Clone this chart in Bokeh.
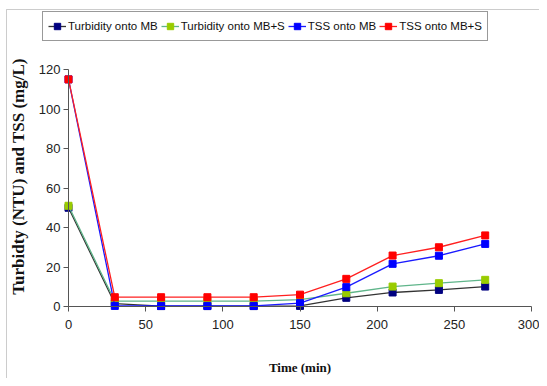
import math
from bokeh.plotting import figure
from bokeh.models import Legend, LegendItem, Range1d, FixedTicker, BoxAnnotation, Label
from bokeh.embed import file_html
from bokeh.resources import INLINE

time_min = [0, 30, 60, 90, 120, 150, 180, 210, 240, 270]
turb_mb = [50, 1.5, 0.2, 0.2, 0.2, 0.3, 4.4, 7.1, 8.4, 10.1]
turb_mbs = [51, 2.7, 2.7, 2.7, 2.7, 3.5, 6.7, 10.1, 11.8, 13.5]
tss_mb = [115, 0.3, 0.3, 0.3, 0.3, 1.7, 9.8, 21.6, 25.7, 31.7]
tss_mbs = [115, 4.7, 4.7, 4.7, 4.7, 6, 14, 25.8, 30, 36]

x_ticks = [0, 50, 100, 150, 200, 250, 300]
y_ticks = [0, 20, 40, 60, 80, 100, 120]
x_title = "Time (min)"
y_title = "Turbidty (NTU) and TSS (mg/L)"

# layout (canvas pixels)
W, H = 539, 378
X0_PX, X300_PX = 68, 531     # where x=0 and x=300 fall
Y0_PX, Y120_PX = 306, 69     # where y=0 and y=120 fall
pxu = (X300_PX - X0_PX) / 300.0
pyu = (Y0_PX - Y120_PX) / 120.0
x_rng = Range1d(-X0_PX / pxu, 300 + (W - X300_PX) / pxu)
y_rng = Range1d(-(H - Y0_PX) / pyu, 120 + Y120_PX / pyu)

p = figure(width=W, height=H, output_backend="svg", toolbar_location=None,
           x_range=x_rng, y_range=y_rng, min_border=0,
           min_border_left=0, min_border_right=0, min_border_top=0, min_border_bottom=0)
p.outline_line_color = None
p.xgrid.visible = False
p.ygrid.visible = False
p.background_fill_color = "white"
p.border_fill_color = "white"

p.add_layout(BoxAnnotation(left=6, top=9, right=2000, bottom=2000,
                           left_units="canvas", right_units="canvas",
                           top_units="canvas", bottom_units="canvas",
                           fill_color=None, line_color="#555555", line_width=1))

tick_font = "Liberation Sans"
for ax in (p.xaxis[0], p.yaxis[0]):
    ax.fixed_location = 0
    ax.axis_line_color = "#555555"
    ax.major_tick_line_color = "#555555"
    ax.minor_tick_line_color = None
    ax.major_tick_out = 5
    ax.major_tick_in = 0
    ax.major_label_text_font = tick_font
    ax.major_label_text_font_size = "13px"
    ax.major_label_text_color = "#222222"
    ax.axis_label_text_font = "Liberation Serif"
    ax.axis_label_text_font_style = "bold"
    ax.axis_label_text_color = "#111111"

p.xaxis.bounds = (0, 300)
p.yaxis.bounds = (0, 120)
p.xaxis.ticker = FixedTicker(ticks=x_ticks)
p.yaxis.ticker = FixedTicker(ticks=y_ticks)
p.xaxis.axis_label = x_title
p.xaxis.axis_label_text_font_size = "13px"
p.xaxis.major_label_standoff = 8
p.xaxis.axis_label_standoff = 28
p.yaxis.major_label_standoff = 3

# y title placed at its own spot (centred a little above the axis middle, as in the reference)
p.add_layout(Label(x=(18 - X0_PX) / pxu, y=(Y0_PX - 176) / pyu, text=y_title,
                   angle=math.pi / 2, text_align="center", text_baseline="middle",
                   text_font="Liberation Serif", text_font_style="bold",
                   text_font_size="17px", text_color="#111111"))

series = [
    ("Turbidity onto MB", turb_mb, "#333333", "#000080"),
    ("Turbidity onto MB+S", turb_mbs, "#5fb58a", "#99cc00"),
    ("TSS onto MB", tss_mb, "#1a1aff", "#0000ff"),
    ("TSS onto MB+S", tss_mbs, "#ff2020", "#ff0000"),
]

items = []
for name, ys, lc, mc in series:
    l = p.line(time_min, ys, line_color=lc, line_width=1.3)
    s = p.scatter(time_min, ys, marker="square", size=7, fill_color=mc, line_color=mc)
    items.append(LegendItem(label=name, renderers=[l, s]))

legend = Legend(items=items, orientation="horizontal", location=(42, H - 41),
                label_text_font=tick_font, label_text_font_size="11.5px",
                label_text_color="#111111",
                glyph_width=18, glyph_height=16, label_standoff=2, spacing=3,
                padding=5, margin=0, label_height=18,
                border_line_color="#333333", border_line_width=1,
                background_fill_color="white", background_fill_alpha=1)
p.add_layout(legend, "center")

open("out.html", "w").write(file_html(p, INLINE))
